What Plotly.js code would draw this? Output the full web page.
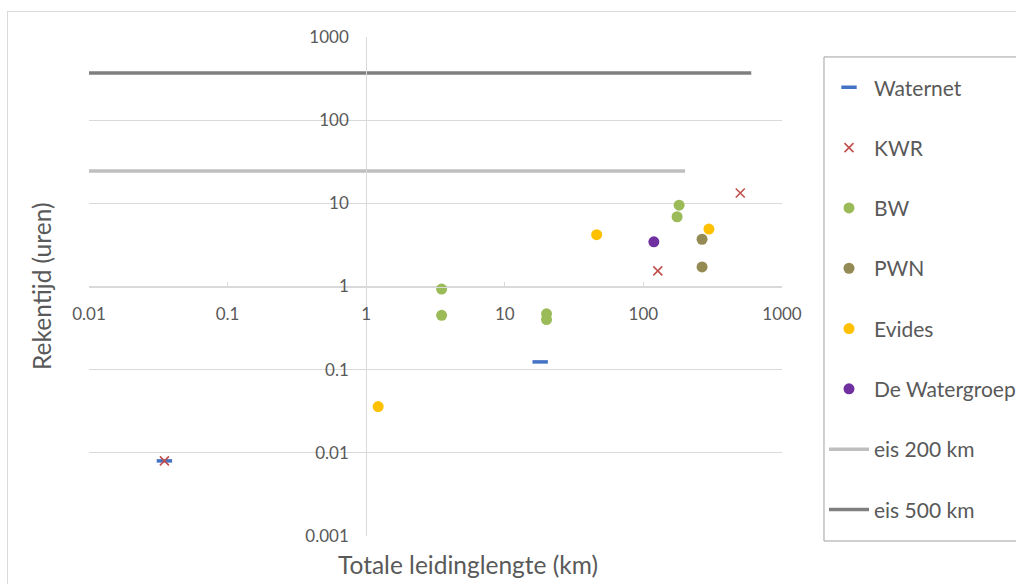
<!DOCTYPE html>
<html>
<head>
<meta charset="utf-8">
<script src="https://cdn.plot.ly/plotly-3.0.1.min.js"></script>
<style>
html,body{margin:0;padding:0;overflow:hidden;background:#fff;}
#chart{position:absolute;left:0;top:0;width:1016px;height:584px;}
#frame{position:absolute;left:7px;top:11px;width:1100px;height:700px;border:1px solid #d9d9d9;pointer-events:none;}
</style>
</head>
<body>
<div id="chart"></div>
<div id="frame"></div>
<script>
// Data (x = Totale leidinglengte in km, y = Rekentijd in uren)
const waternetX = [0.035, 18];
const waternetY = [0.008, 0.124];
const kwrX = [0.035, 127, 500];
const kwrY = [0.008, 1.54, 13.3];
const bwX = [3.5, 3.5, 20, 20, 181, 175];
const bwY = [0.93, 0.45, 0.47, 0.40, 9.5, 6.9];
const pwnX = [265, 265];
const pwnY = [3.7, 1.72];
const evidesX = [1.22, 46, 297];
const evidesY = [0.036, 4.2, 4.9];
const watergroepX = [119];
const watergroepY = [3.45];
const eis200X = [0.01, 200];
const eis200Y = [24.5, 24.5];
const eis500X = [0.01, 600];
const eis500Y = [370, 370];
const tickVals = [0.01, 0.1, 1, 10, 100, 1000];
const tickText = ['0.01', '0.1', '1', '10', '100', '1000'];
const yTickVals = [0.001, 0.01, 0.1, 1, 10, 100, 1000];
const yTickText = ['0.001', '0.01', '0.1', '1', '10', '100', '1000'];

const FONT = 'Lato, "Open Sans", sans-serif';
const TXT = '#595959';

function pts(name, x, y, marker) {
  return {type: 'scatter', mode: 'markers', name: name, x: x, y: y,
          marker: marker, legendgroup: name, hoverinfo: 'x+y+name'};
}

const traces = [
  pts('Waternet', waternetX, waternetY,
      {symbol: 'line-ew-open', size: 11, color: '#4472c4', line: {color: '#4472c4', width: 3.5}}),
  pts('KWR', kwrX, kwrY,
      {symbol: 'x-thin-open', size: 9, color: '#c0504d', line: {color: '#c0504d', width: 1.6}}),
  pts('BW', bwX, bwY, {symbol: 'circle', size: 11, color: '#9bbb59'}),
  pts('PWN', pwnX, pwnY, {symbol: 'circle', size: 11, color: '#948a54'}),
  pts('Evides', evidesX, evidesY, {symbol: 'circle', size: 11, color: '#ffc000'}),
  pts('De Watergroep', watergroepX, watergroepY, {symbol: 'circle', size: 11, color: '#7030a0'}),
  {type: 'scatter', mode: 'lines', name: 'eis 200 km', x: eis200X, y: eis200Y,
   line: {color: '#bfbfbf', width: 3.5}, legendgroup: 'eis200'},
  {type: 'scatter', mode: 'lines', name: 'eis 500 km', x: eis500X, y: eis500Y,
   line: {color: '#7f7f7f', width: 3.5}, legendgroup: 'eis500'}
];

const layout = {
  width: 1016, height: 584,
  margin: {l: 89, r: 234, t: 37, b: 48, autoexpand: false},
  paper_bgcolor: 'rgba(0,0,0,0)', plot_bgcolor: '#fff',
  font: {family: FONT, color: TXT, size: 17},
  showlegend: true,
  xaxis: {
    type: 'log', range: [-2, 3], anchor: 'free', position: 0.5,
    tickvals: tickVals, ticktext: tickText,
    showgrid: false,
    showline: true, linecolor: '#d9d9d9', linewidth: 1,
    ticks: 'inside', ticklen: 5, tickcolor: '#d9d9d9',
    ticklabelstandoff: 12,
    tickfont: {family: FONT, color: TXT, size: 17},
    zeroline: false, fixedrange: true
  },
  yaxis: {
    type: 'log', range: [-3, 3], anchor: 'free', position: 0.4,
    tickvals: yTickVals, ticktext: yTickText,
    showgrid: true, gridcolor: '#d9d9d9', gridwidth: 1,
    showline: true, linecolor: '#d9d9d9', linewidth: 1,
    ticks: '', ticklabelstandoff: 14,
    tickfont: {family: FONT, color: TXT, size: 17},
    zeroline: false, fixedrange: true
  },
  legend: {
    x: 1.0606, y: 0.9395, xanchor: 'left', yanchor: 'top',
    borderwidth: 0, bgcolor: 'rgba(0,0,0,0)',
    font: {family: FONT, color: TXT, size: 21},
    tracegroupgap: 30, itemsizing: 'trace', itemwidth: 40
  },
  shapes: [
    {type: 'rect', xref: 'paper', yref: 'paper', x0: 1.0606, x1: 1.6, y0: -0.01, y1: 0.96,
     line: {color: '#a0a0a0', width: 1}, fillcolor: 'rgba(0,0,0,0)', layer: 'above'}
  ],
  annotations: [
    {text: 'Totale leidinglengte (km)', xref: 'paper', yref: 'paper',
     x: 0.547, y: -0.058, xanchor: 'center', yanchor: 'middle', showarrow: false,
     font: {family: FONT, color: TXT, size: 24.5}},
    {text: 'Rekentijd (uren)', xref: 'paper', yref: 'paper',
     x: -0.0678, y: 0.499, xanchor: 'center', yanchor: 'middle', showarrow: false,
     textangle: -90, font: {family: FONT, color: TXT, size: 24.5}}
  ]
};

Plotly.newPlot('chart', traces, layout, {displayModeBar: false, staticPlot: true});
</script>
</body>
</html>
